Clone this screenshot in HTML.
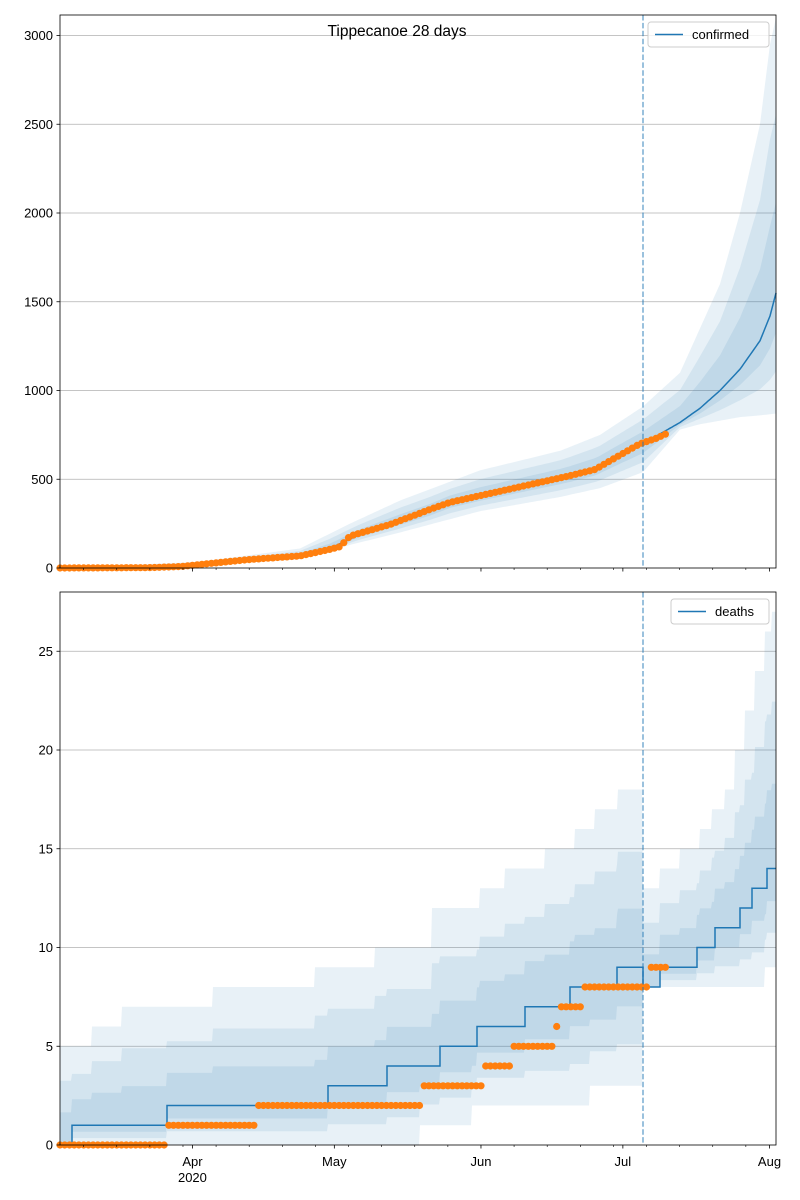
<!DOCTYPE html>
<html><head><meta charset="utf-8"><style>
html,body{margin:0;padding:0;background:#fff;}
svg{display:block;font-family:"Liberation Sans","DejaVu Sans",sans-serif;}
</style></head><body>
<svg id="s" width="800" height="1200" xmlns="http://www.w3.org/2000/svg"></svg>
<script>
const S=document.getElementById('s');
let h='';
const X0=60,X1=776,PD=4.73;
const xd=d=>X0+d*PD;
function interp(pts,x){for(let i=0;i<pts.length-1;i++){if(x>=pts[i][0]&&x<=pts[i+1][0]){const t=(x-pts[i][0])/(pts[i+1][0]-pts[i][0]);return pts[i][1]+t*(pts[i+1][1]-pts[i][1]);}}return x<pts[0][0]?pts[0][1]:pts[pts.length-1][1];}
function stepv(st,x){let v=st[0][1];for(const s of st){if(x>=s[0])v=s[1];}return v;}
const T0=15,TB=568,ty=v=>TB-v*0.1775;
h+=`<rect x="60" y="15" width="716" height="553" fill="#fff"/>`;
for(const v of [500,1000,1500,2000,2500,3000]){h+=`<line x1="60" x2="776" y1="${ty(v)}" y2="${ty(v)}" stroke="#b0b0b0" stroke-width="0.8"/>`;}
const line=[[60,0],[150,3],[180,8],[200,20],[250,45],[300,70],[330,110],[345,150],[360,190],[390,245],[430,320],[450,370],[490,420],[530,470],[570,520],[595,560],[615,620],[643,700],[680,820],[700,900],[720,1000],[740,1120],[760,1280],[770,1420],[776,1550]];
const outerU=[[60,0],[200,35],[300,110],[350,250],[400,380],[480,550],[560,660],[600,750],[643,910],[680,1100],[700,1350],[720,1600],[740,2000],[760,2500],[770,2950],[776,3100]];
const outerL=[[60,0],[200,12],[300,50],[350,130],[400,200],[480,320],[560,400],[600,450],[643,540],[680,780],[700,810],[720,830],[740,850],[760,860],[776,870]];
function bands(lineF,uF,lF,yf,step){
 for(const k of [1,0.65,0.33]){
  let up=[],lo=[];
  for(let x=60;x<=776;x+=step){const l=lineF(x);up.push([x,yf(l+k*(uF(x)-l))]);lo.push([x,yf(l-k*(l-lF(x)))]);}
  const pts=up.concat(lo.reverse()).map(p=>p[0].toFixed(1)+','+p[1].toFixed(1)).join(' ');
  h+=`<polygon points="${pts}" fill="#1f77b4" fill-opacity="0.1"/>`;
 }
}
bands(x=>interp(line,x),x=>interp(outerU,x),x=>interp(outerL,x),ty,2);
let lp=[];for(let x=60;x<=776;x+=2)lp.push(x+','+ty(interp(line,x)).toFixed(1));
h+=`<polyline points="${lp.join(' ')}" fill="none" stroke="#1f77b4" stroke-width="1.5"/>`;
const obs=[[60,0],[150,2],[180,8],[200,20],[250,48],[300,68],[330,105],[340,120],[350,180],[390,245],[430,330],[450,370],[490,420],[530,470],[570,520],[595,555],[615,620],[640,700],[655,728],[668,760]];
for(let d=0;xd(d)<=669;d++){const x=xd(d);h+=`<circle cx="${x.toFixed(1)}" cy="${ty(interp(obs,x)).toFixed(1)}" r="3.6" fill="#ff7f0e"/>`;}
h+=`<line x1="643" x2="643" y1="15" y2="568" stroke="#1f77b4" stroke-opacity="0.6" stroke-width="1.5" stroke-dasharray="5.5,2.4"/>`;
h+=`<rect x="60" y="15" width="716" height="553" fill="none" stroke="#000" stroke-width="0.8"/>`;
for(const v of [0,500,1000,1500,2000,2500,3000]){h+=`<line x1="56.5" x2="60" y1="${ty(v)}" y2="${ty(v)}" stroke="#000" stroke-width="0.8"/><text x="53" y="${ty(v)+4.5}" font-size="13" text-anchor="end">${v}</text>`;}
h+=`<text x="397" y="36" font-size="15.5" text-anchor="middle">Tippecanoe 28 days</text>`;
h+=`<rect x="648" y="22" width="121" height="25" rx="3" fill="#fff" fill-opacity="0.8" stroke="#ccc"/><line x1="655" x2="683" y1="34.5" y2="34.5" stroke="#1f77b4" stroke-width="1.5"/><text x="692" y="39" font-size="13">confirmed</text>`;
const BB=1145,by=v=>BB-v*19.75;
for(const v of [5,10,15,20,25]){h+=`<line x1="60" x2="776" y1="${by(v)}" y2="${by(v)}" stroke="#b0b0b0" stroke-width="0.8"/>`;}
const dl=[[60,0],[72,1],[167,2],[328,3],[387,4],[440,5],[477,6],[525,7],[570,8],[617,9],[643,8],[660,9],[697,10],[715,11],[740,12],[752,13],[767,14]];
const dU=[[60,5],[92,6],[122,7],[213,8],[315,9],[375,10],[432,12],[480,13],[505,14],[545,15],[575,16],[595,17],[618,18],[643,13],[660,14],[680,15],[700,16],[712,17],[725,18],[735,20],[745,22],[755,24],[765,26],[772,27]];
const dL=[[60,0],[420,1],[472,2],[520,2],[590,3],[643,8],[765,9]];
bands(x=>stepv(dl,x),x=>Math.max(stepv(dU,x),stepv(dl,x)),x=>Math.min(stepv(dL,x),stepv(dl,x)),by,1);
let sp=[];let prev=null;
for(let x=60;x<=776;x+=1){const v=stepv(dl,x);if(prev!==null&&v!==prev)sp.push(x+','+by(prev));sp.push(x+','+by(v));prev=v;}
h+=`<polyline points="${sp.join(' ')}" fill="none" stroke="#1f77b4" stroke-width="1.5"/>`;
const ds=[[60,0],[168,1],[258,2],[424,3],[484,4],[510,5],[556,6],[561,7],[585,8],[650,9]];
for(let d=0;xd(d)<=669;d++){const x=xd(d);h+=`<circle cx="${x.toFixed(1)}" cy="${by(stepv(ds,x)).toFixed(1)}" r="3.6" fill="#ff7f0e"/>`;}
h+=`<line x1="643" x2="643" y1="592" y2="1145" stroke="#1f77b4" stroke-opacity="0.6" stroke-width="1.5" stroke-dasharray="5.5,2.4"/>`;
h+=`<rect x="60" y="592" width="716" height="553" fill="none" stroke="#000" stroke-width="0.8"/>`;
for(const v of [0,5,10,15,20,25]){h+=`<line x1="56.5" x2="60" y1="${by(v)}" y2="${by(v)}" stroke="#000" stroke-width="0.8"/><text x="53" y="${by(v)+4.5}" font-size="13" text-anchor="end">${v}</text>`;}
h+=`<rect x="671" y="599" width="98" height="25" rx="3" fill="#fff" fill-opacity="0.8" stroke="#ccc"/><line x1="678" x2="706" y1="611.5" y2="611.5" stroke="#1f77b4" stroke-width="1.5"/><text x="715" y="616" font-size="13">deaths</text>`;
const months=[[28,'Apr'],[58,'May'],[89,'Jun'],[119,'Jul'],[150,'Aug']];
for(const B of [568,1145]){
 for(let d=5;d<=151;d+=7){if(!months.some(m=>m[0]===d))h+=`<line x1="${xd(d)}" x2="${xd(d)}" y1="${B}" y2="${B+2}" stroke="#000" stroke-width="0.6"/>`;}
 for(const m of months){h+=`<line x1="${xd(m[0])}" x2="${xd(m[0])}" y1="${B}" y2="${B+3.5}" stroke="#000" stroke-width="0.8"/>`;}
}
for(const m of months){h+=`<text x="${xd(m[0])}" y="1166" font-size="13" text-anchor="middle">${m[1]}</text>`;}
h+=`<text x="${xd(28)}" y="1182" font-size="13" text-anchor="middle">2020</text>`;
S.innerHTML=h;
</script>
</body></html>
